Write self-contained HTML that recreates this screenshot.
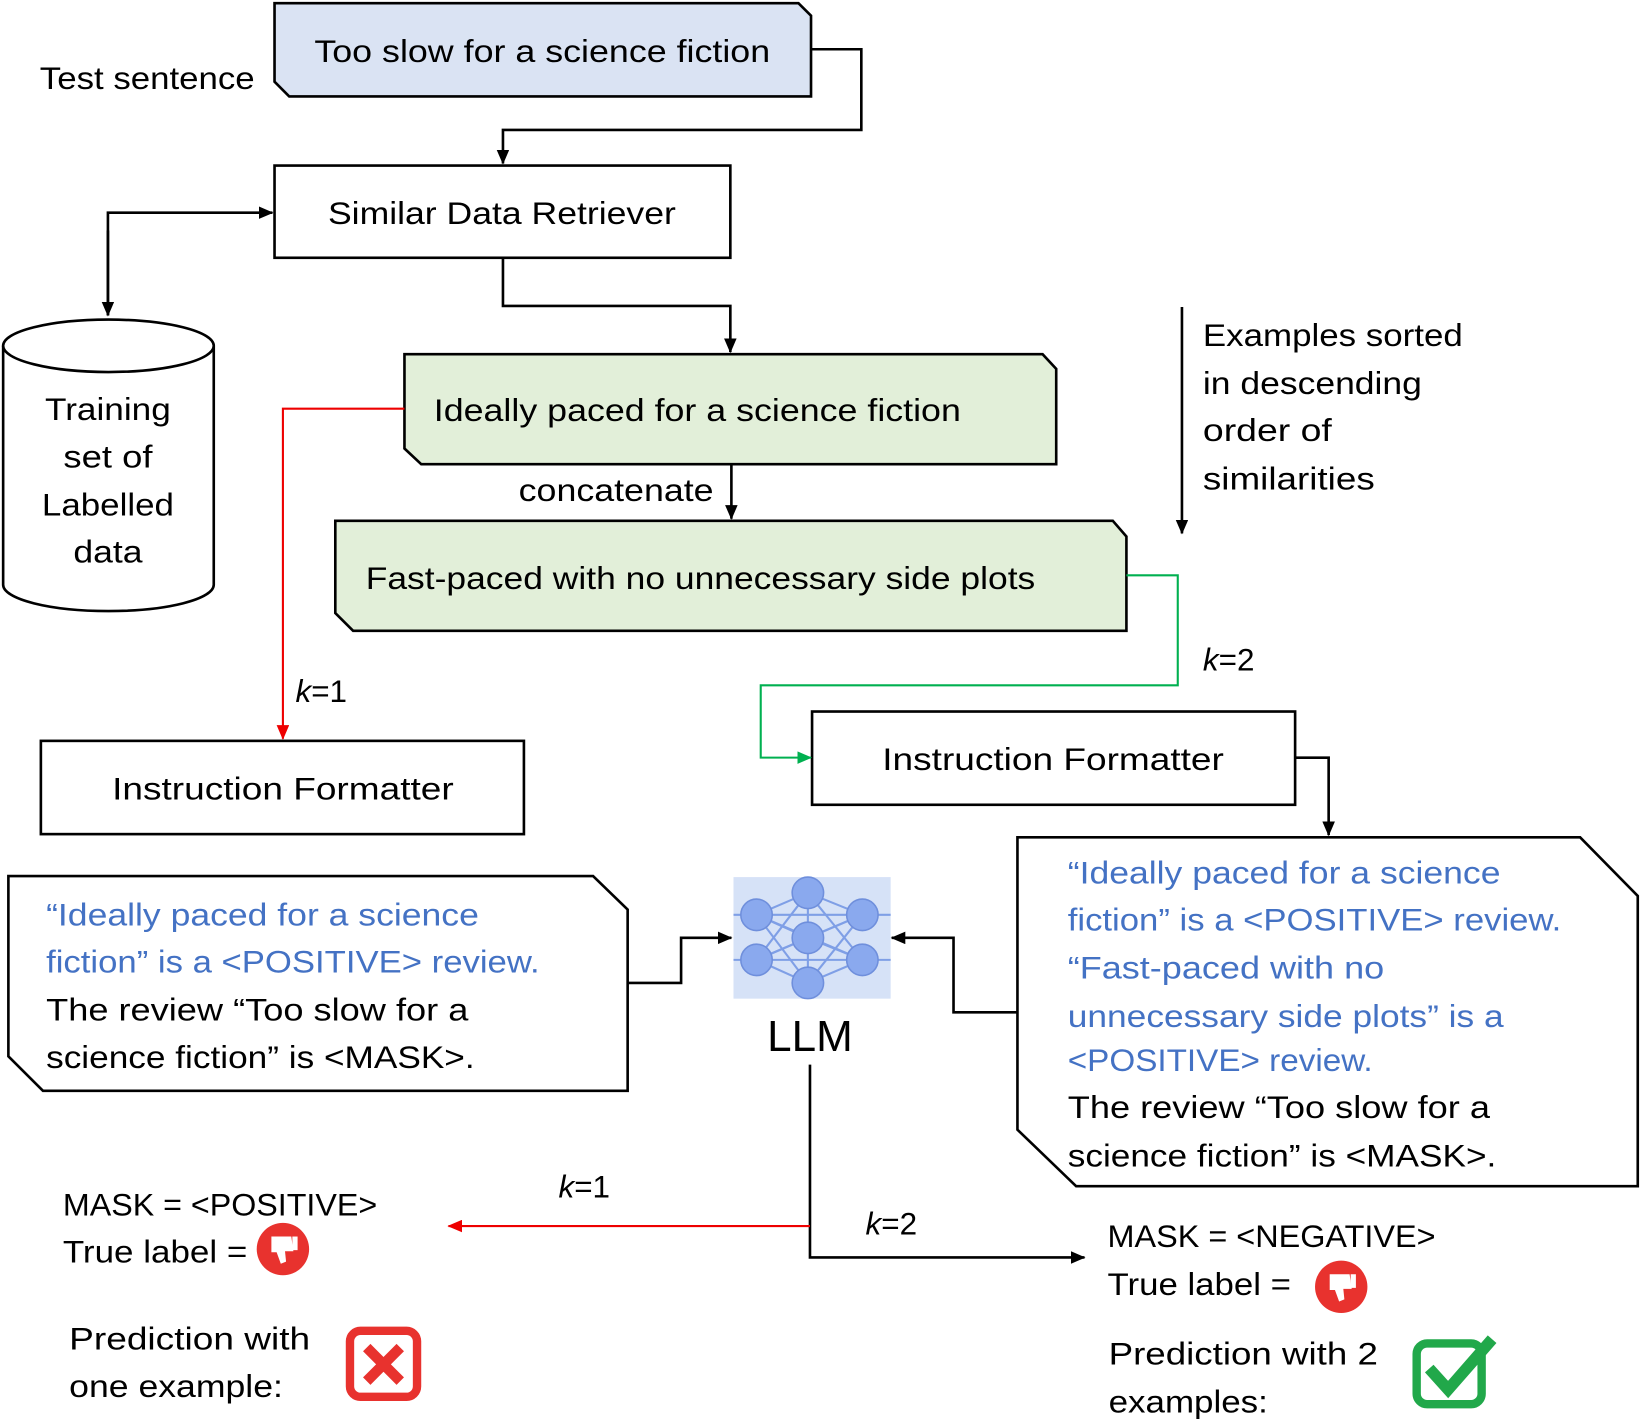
<!DOCTYPE html>
<html><head><meta charset="utf-8"><style>
html,body{margin:0;padding:0;background:#fff;}
svg{display:block;}
text{font-family:"Liberation Sans",sans-serif;font-size:30px;fill:#000;}
.b{fill:#4472c4;}
</style></head><body>
<svg width="1643" height="1422" viewBox="0 0 1568 1357" preserveAspectRatio="none" xmlns="http://www.w3.org/2000/svg">
<defs>
<marker id="ak" markerWidth="14" markerHeight="12" refX="13" refY="6" orient="auto" markerUnits="userSpaceOnUse"><path d="M0,0 L14,6 L0,12 z" fill="#000"/></marker>
<marker id="ar" markerWidth="14" markerHeight="12" refX="13" refY="6" orient="auto" markerUnits="userSpaceOnUse"><path d="M0,0 L14,6 L0,12 z" fill="#e00"/></marker>
<marker id="ag" markerWidth="14" markerHeight="12" refX="13" refY="6" orient="auto" markerUnits="userSpaceOnUse"><path d="M0,0 L14,6 L0,12 z" fill="#00b050"/></marker>
</defs>
<g fill="none" stroke="#000" stroke-width="2.5">
<path d="M262,3 L762,3 L774,15 L774,92 L276,92 L262,78 Z" fill="#dae3f3"/>
<rect x="262" y="158" width="435" height="88" fill="#fff"/>
<path d="M3,330 L3,558 A100,25 0 0 0 204,558 L204,330" fill="#fff"/>
<ellipse cx="103.5" cy="330" rx="100.5" ry="25" fill="#fff"/>
<path d="M386,338 L995,338 L1008,352 L1008,443 L402,443 L386,428 Z" fill="#e2efd9"/>
<path d="M320,497 L1062,497 L1075,512 L1075,602 L337,602 L320,585 Z" fill="#e2efd9"/>
<rect x="39" y="707" width="461" height="89" fill="#fff"/>
<rect x="775" y="679" width="461" height="89" fill="#fff"/>
<path d="M971,799 L1508,799 L1563,855 L1563,1132 L1027,1132 L971,1078 Z" fill="#fff"/>
<path d="M8,836 L566,836 L599,868 L599,1041 L41,1041 L8,1008 Z" fill="#fff"/>
<path d="M774,47 L822,47 L822,124 L480,124 L480,156" marker-end="url(#ak)"/>
<path d="M103,301 L103,203 L260,203" marker-end="url(#ak)"/>
<path d="M103,220 L103,301" marker-end="url(#ak)"/>
<path d="M480,246 L480,292 L697,292 L697,336" marker-end="url(#ak)"/>
<path d="M698,443 L698,495" marker-end="url(#ak)"/>
<path d="M1128,293 L1128,509" marker-end="url(#ak)"/>
<path d="M1236,723 L1268,723 L1268,797" marker-end="url(#ak)"/>
<path d="M599,938 L650,938 L650,895 L698,895" marker-end="url(#ak)"/>
<path d="M971,966 L910,966 L910,895 L851,895" marker-end="url(#ak)"/>
<path d="M773,1016 L773,1200 L1035,1200" marker-end="url(#ak)"/>
<path d="M386,390 L270,390 L270,705" stroke="#e00" stroke-width="2" marker-end="url(#ar)"/>
<path d="M773,1170 L428,1170" stroke="#e00" stroke-width="2" marker-end="url(#ar)"/>
<path d="M1075,549 L1124,549 L1124,654 L726,654 L726,723 L774,723" stroke="#00b050" stroke-width="2" marker-end="url(#ag)"/>
</g>
<rect x="700" y="837" width="150" height="116" fill="#d6e2f7"/>
<g stroke="#7f9fe6" stroke-width="2">
<line x1="771" y1="852" x2="722" y2="873"/><line x1="771" y1="852" x2="823" y2="873"/><line x1="771" y1="852" x2="771" y2="938"/>
<line x1="771" y1="852" x2="722" y2="916"/><line x1="771" y1="852" x2="823" y2="916"/>
<line x1="722" y1="873" x2="771" y2="895"/><line x1="823" y1="873" x2="771" y2="895"/>
<line x1="722" y1="916" x2="771" y2="895"/><line x1="823" y1="916" x2="771" y2="895"/>
<line x1="722" y1="873" x2="771" y2="938"/><line x1="823" y1="873" x2="771" y2="938"/>
<line x1="722" y1="916" x2="771" y2="938"/><line x1="823" y1="916" x2="771" y2="938"/>
<line x1="722" y1="873" x2="823" y2="916"/><line x1="823" y1="873" x2="722" y2="916"/>
<line x1="700" y1="873" x2="850" y2="873"/><line x1="700" y1="916" x2="850" y2="916"/>
</g>
<g fill="#8aa9ee" stroke="#6f8fdc" stroke-width="1.5">
<circle cx="771" cy="852" r="15"/><circle cx="722" cy="873" r="15"/><circle cx="823" cy="873" r="15"/>
<circle cx="771" cy="895" r="15"/><circle cx="722" cy="916" r="15"/><circle cx="823" cy="916" r="15"/>
<circle cx="771" cy="938" r="15"/>
</g>
<text x="38" y="85" textLength="205" lengthAdjust="spacingAndGlyphs">Test sentence</text>
<text x="300" y="59" textLength="435" lengthAdjust="spacingAndGlyphs">Too slow for a science fiction</text>
<text x="313" y="214" textLength="332" lengthAdjust="spacingAndGlyphs">Similar Data Retriever</text>
<text x="103" y="401" text-anchor="middle" textLength="120" lengthAdjust="spacingAndGlyphs">Training</text>
<text x="103" y="446" text-anchor="middle" textLength="85" lengthAdjust="spacingAndGlyphs">set of</text>
<text x="103" y="492" text-anchor="middle" textLength="126" lengthAdjust="spacingAndGlyphs">Labelled</text>
<text x="103" y="537" text-anchor="middle" textLength="66" lengthAdjust="spacingAndGlyphs">data</text>
<text x="414" y="402" textLength="503" lengthAdjust="spacingAndGlyphs">Ideally paced for a science fiction</text>
<text x="495" y="478" textLength="186" lengthAdjust="spacingAndGlyphs">concatenate</text>
<text x="349" y="562" textLength="639" lengthAdjust="spacingAndGlyphs">Fast-paced with no unnecessary side plots</text>
<text x="1148" y="330" textLength="248" lengthAdjust="spacingAndGlyphs">Examples sorted</text>
<text x="1148" y="376" textLength="209" lengthAdjust="spacingAndGlyphs">in descending</text>
<text x="1148" y="421" textLength="123" lengthAdjust="spacingAndGlyphs">order of</text>
<text x="1148" y="467" textLength="164" lengthAdjust="spacingAndGlyphs">similarities</text>
<text x="282" y="670"><tspan font-style="italic">k</tspan>=1</text>
<text x="1148" y="640"><tspan font-style="italic">k</tspan>=2</text>
<text x="107" y="763" textLength="326" lengthAdjust="spacingAndGlyphs">Instruction Formatter</text>
<text x="842" y="735" textLength="326" lengthAdjust="spacingAndGlyphs">Instruction Formatter</text>
<text x="1019" y="843" class="b" textLength="413" lengthAdjust="spacingAndGlyphs">“Ideally paced for a science</text>
<text x="1019" y="888" class="b" textLength="471" lengthAdjust="spacingAndGlyphs">fiction” is a &lt;POSITIVE&gt; review.</text>
<text x="1019" y="934" class="b" textLength="302" lengthAdjust="spacingAndGlyphs">“Fast-paced with no</text>
<text x="1019" y="980" class="b" textLength="416" lengthAdjust="spacingAndGlyphs">unnecessary side plots” is a</text>
<text x="1019" y="1022" class="b" textLength="291" lengthAdjust="spacingAndGlyphs">&lt;POSITIVE&gt; review.</text>
<text x="1019" y="1067" textLength="403" lengthAdjust="spacingAndGlyphs">The review “Too slow for a</text>
<text x="1019" y="1113" textLength="409" lengthAdjust="spacingAndGlyphs">science fiction” is &lt;MASK&gt;.</text>
<text x="44" y="883" class="b" textLength="413" lengthAdjust="spacingAndGlyphs">“Ideally paced for a science</text>
<text x="44" y="928" class="b" textLength="471" lengthAdjust="spacingAndGlyphs">fiction” is a &lt;POSITIVE&gt; review.</text>
<text x="44" y="974" textLength="403" lengthAdjust="spacingAndGlyphs">The review “Too slow for a</text>
<text x="44" y="1019" textLength="409" lengthAdjust="spacingAndGlyphs">science fiction” is &lt;MASK&gt;.</text>
<text x="773" y="1003" text-anchor="middle" style="font-size:42px">LLM</text>
<text x="533" y="1143"><tspan font-style="italic">k</tspan>=1</text>
<text x="826" y="1178"><tspan font-style="italic">k</tspan>=2</text>
<text x="60" y="1160" textLength="300" lengthAdjust="spacingAndGlyphs">MASK = &lt;POSITIVE&gt;</text>
<text x="60" y="1205" textLength="176" lengthAdjust="spacingAndGlyphs">True label =</text>
<text x="66" y="1288" textLength="230" lengthAdjust="spacingAndGlyphs">Prediction with</text>
<text x="66" y="1333" textLength="204" lengthAdjust="spacingAndGlyphs">one example:</text>
<text x="1057" y="1190" textLength="313" lengthAdjust="spacingAndGlyphs">MASK = &lt;NEGATIVE&gt;</text>
<text x="1057" y="1236" textLength="175" lengthAdjust="spacingAndGlyphs">True label =</text>
<text x="1058" y="1302" textLength="257" lengthAdjust="spacingAndGlyphs">Prediction with 2</text>
<text x="1058" y="1348" textLength="152" lengthAdjust="spacingAndGlyphs">examples:</text>
<g transform="translate(270,1192)">
<circle r="25" fill="#e8322e"/>
<path d="M-11,-12 L8,-12 L10,2 L2,2 L3,12 L-2,14 L-6,3 L-11,3 Z" fill="#fff"/>
<rect x="9" y="-12" width="5" height="13" fill="#fff"/>
</g>
<g transform="translate(1280,1228)">
<circle r="25" fill="#e8322e"/>
<path d="M-11,-12 L8,-12 L10,2 L2,2 L3,12 L-2,14 L-6,3 L-11,3 Z" fill="#fff"/>
<rect x="9" y="-12" width="5" height="13" fill="#fff"/>
</g>
<rect x="334" y="1270" width="64" height="63" rx="10" fill="none" stroke="#e8322e" stroke-width="8"/>
<path d="M350,1286 L382,1318 M382,1286 L350,1318" stroke="#e8322e" stroke-width="10"/>
<rect x="1352" y="1282" width="62" height="58" rx="10" fill="none" stroke="#21a84a" stroke-width="8"/>
<path d="M1364,1306 L1382,1326 L1424,1278" fill="none" stroke="#21a84a" stroke-width="11"/>
</svg>
</body></html>
